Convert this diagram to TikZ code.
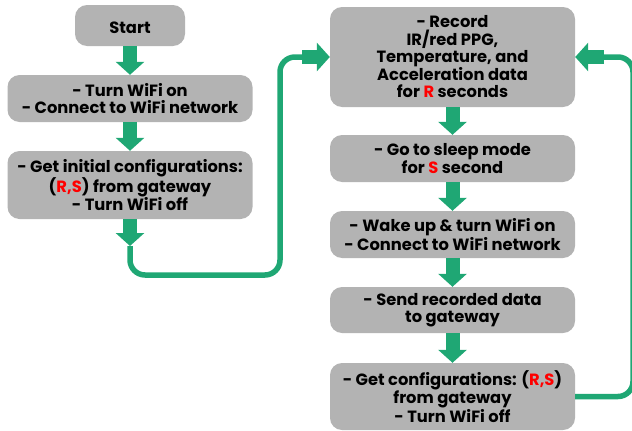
\documentclass[tikz,border=0pt]{standalone}
\usepackage{fontspec}
\setmainfont{Poppins}
\usetikzlibrary{arrows.meta}
\definecolor{boxgray}{RGB}{179,179,179}
\definecolor{flowgreen}{RGB}{31,167,116}
\definecolor{hired}{RGB}{255,0,0}
\newcommand{\hl}[1]{\textcolor{hired}{#1}}
\begin{document}
\begin{tikzpicture}[x=1pt,y=-1pt,
  box/.style={rectangle, rounded corners=12pt, fill=boxgray, align=center,
    font=\fontsize{16.3}{17.2}\selectfont\bfseries, inner sep=0pt, minimum width=245pt,
    execute at begin node={\rule{0pt}{17pt}}},
  fat/.style={draw=flowgreen, line width=14pt, -{Triangle[width=28pt,length=13pt]}},
  loopline/.style={draw=flowgreen, line width=5.5pt, rounded corners=15pt}]
\useasboundingbox (0,0) rectangle (632,431);
% left column
\node[box, minimum width=110pt, minimum height=41pt] (start) at (130,25.5) {Start};
\node[box, minimum height=47pt] (b2) at (130,98.5) {- Turn WiFi on\\- Connect to WiFi network};
\node[box, minimum height=68pt] (b3) at (130,185) {- Get initial configurations:\\(\hl{R,S}) from gateway\\- Turn WiFi off};
% right column
\node[box, minimum height=100pt] (r1) at (452.5,57) {- Record\\IR/red PPG,\\Temperature, and\\Acceleration data\\for \hl{R} seconds};
\node[box, minimum height=47pt] (r2) at (452.5,158.5) {- Go to sleep mode\\for \hl{S} second};
\node[box, minimum height=47pt] (r3) at (452.5,234.5) {- Wake up \& turn WiFi on\\- Connect to WiFi network};
\node[box, minimum height=46pt] (r4) at (452.5,310) {- Send recorded data\\to gateway};
\node[box, minimum height=67pt] (r5) at (452.5,396.5) {- Get configurations: (\hl{R,S})\\from gateway\\- Turn WiFi off};
% helper coordinates
\coordinate (tipL) at (130,246);
\coordinate (inL) at (302,57);
\coordinate (inR) at (604,57);
% straight block arrows
\draw[fat] (start.south) -- (b2.north);
\draw[fat] (b2.south) -- (b3.north);
\draw[fat] (b3.south) -- (tipL);
\draw[fat] (r1.south) -- (r2.north);
\draw[fat] (r2.south) -- (r3.north);
\draw[fat] (r3.south) -- (r4.north);
\draw[fat] (r4.south) -- (r5.north);
% loops
\draw[loopline] (tipL) -- (130,275) -- (280,275) -- (280,57) -- (inL);
\draw[fat] (inL) -- (r1.west);
\draw[loopline] (r5.east) -- (633,396.5) -- (633,57) -- (inR);
\draw[fat] (inR) -- (r1.east);
\end{tikzpicture}
\end{document}
